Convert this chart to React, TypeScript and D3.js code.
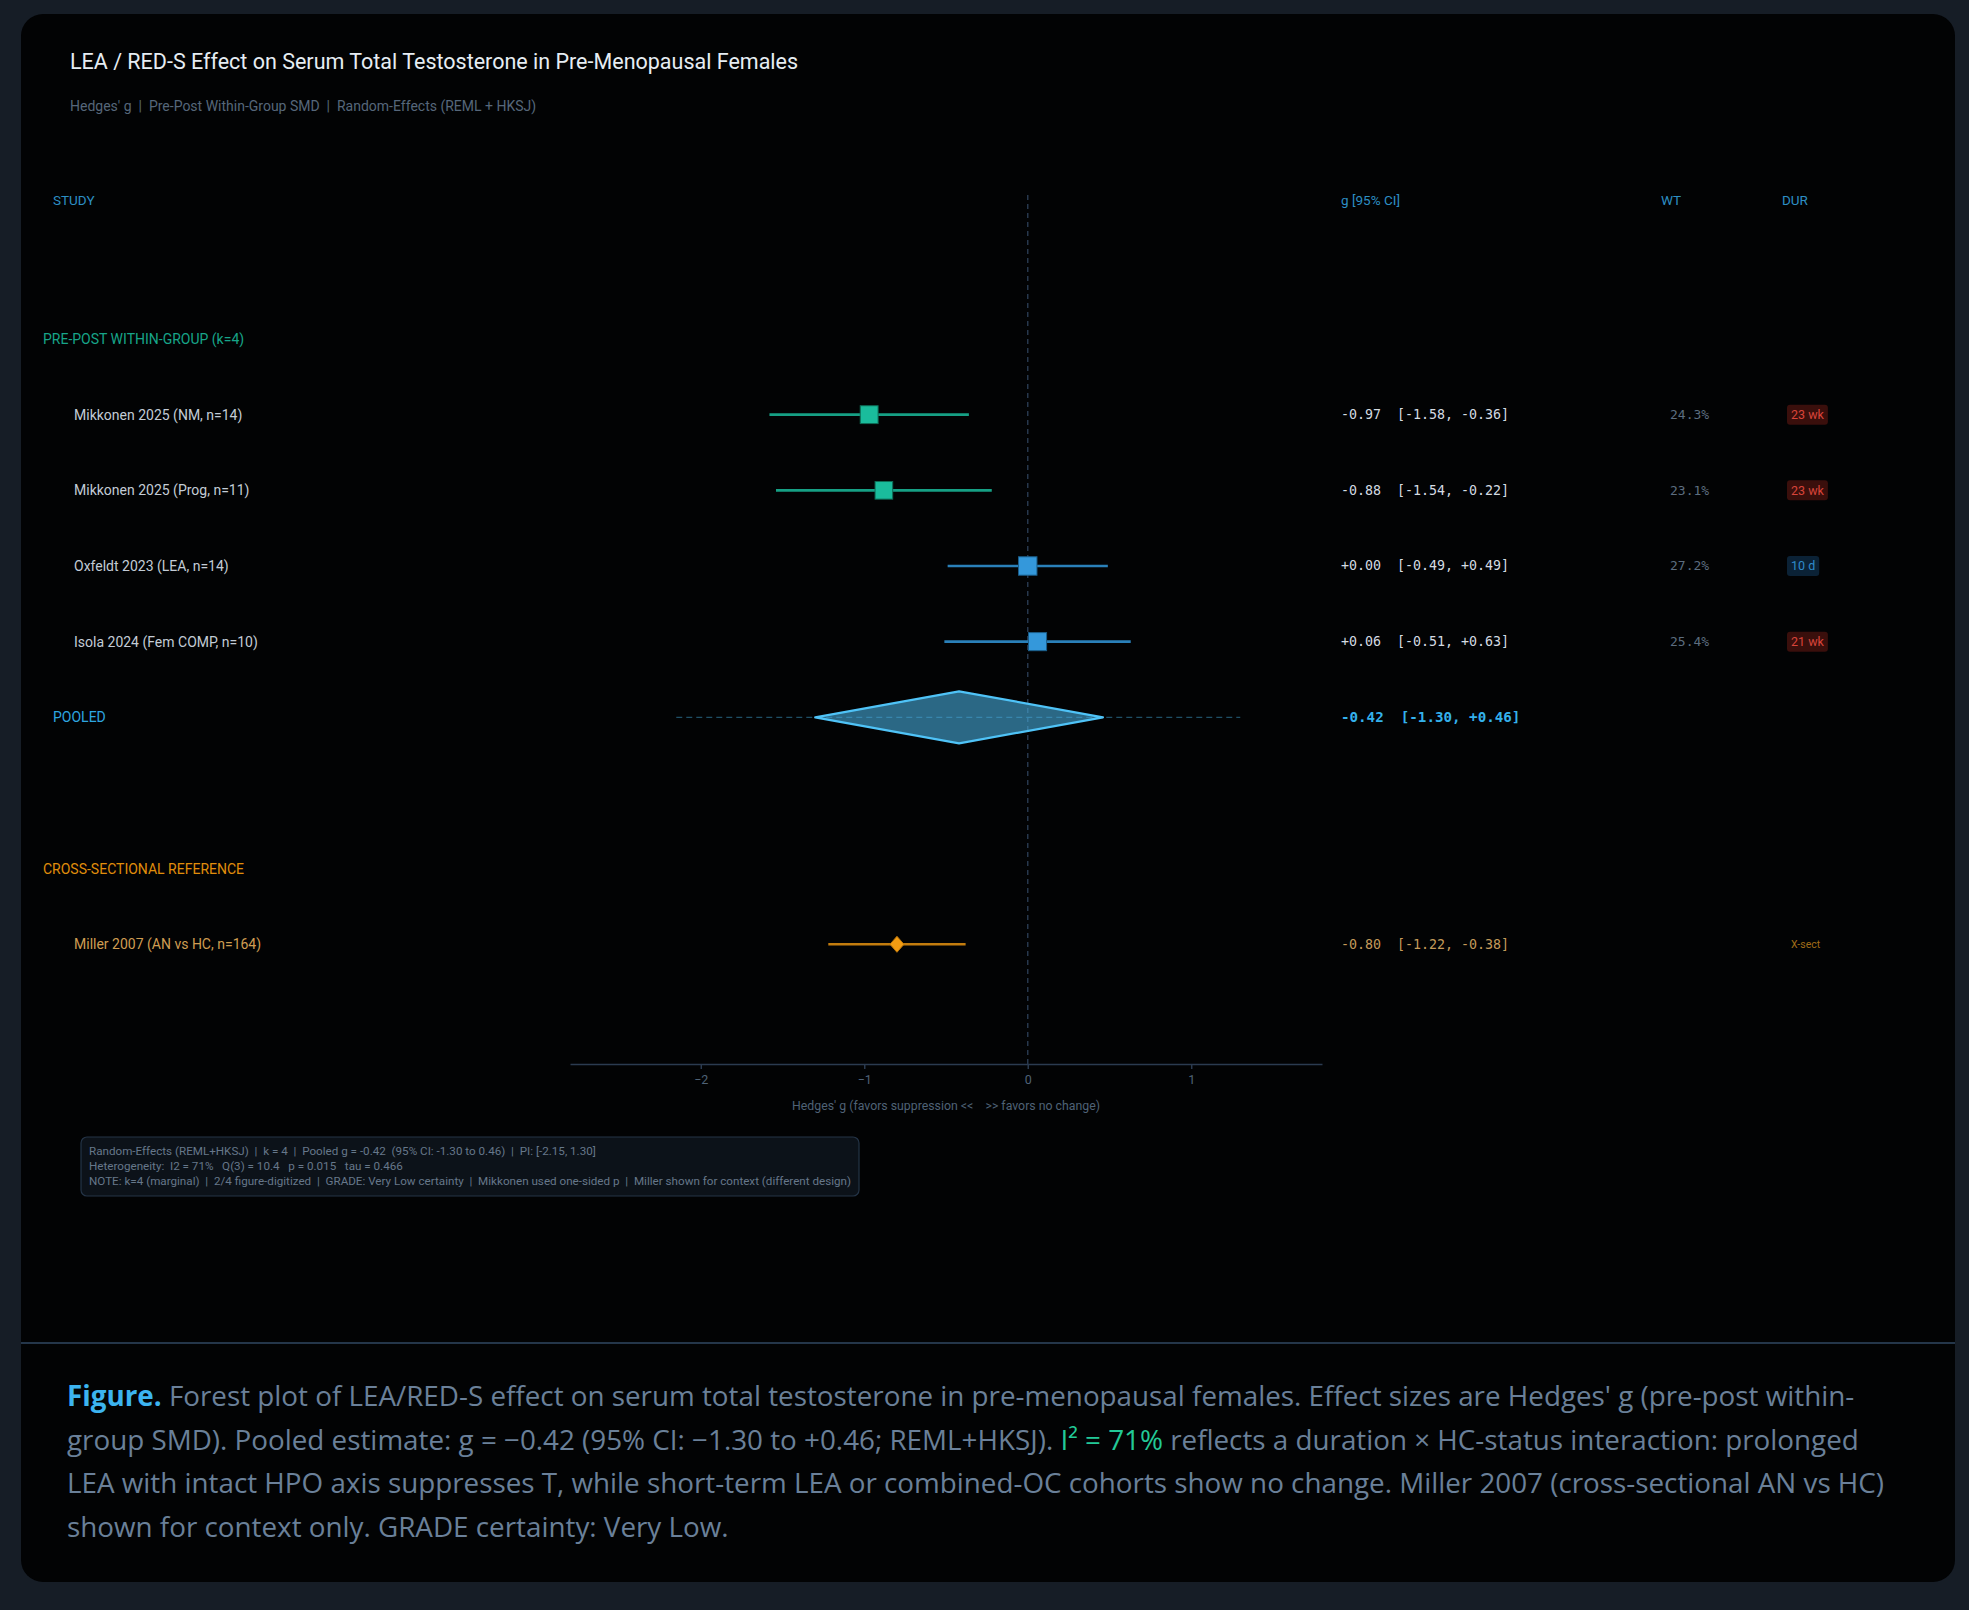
import React, { useEffect, useRef } from 'react';
import * as d3 from 'd3';

// ---- data ----
const studyLabels = [
  'Mikkonen 2025 (NM, n=14)',
  'Mikkonen 2025 (Prog, n=11)',
  'Oxfeldt 2023 (LEA, n=14)',
  'Isola 2024 (Fem COMP, n=10)',
];
const effects = [-0.97, -0.88, 0.0, 0.06];
const ciLow = [-1.58, -1.54, -0.49, -0.51];
const ciHigh = [-0.36, -0.22, 0.49, 0.63];
const weights = [24.3, 23.1, 27.2, 25.4];
const durations = ['23 wk', '23 wk', '10 d', '21 wk'];
const durKind = ['long', 'long', 'short', 'long'];
const response = ['suppressed', 'suppressed', 'unchanged', 'unchanged'];

const pooledG = -0.42;
const pooledCI = [-1.3, 0.46];
const pooledPI = [-2.15, 1.3];

const refLabel = 'Miller 2007 (AN vs HC, n=164)';
const refG = -0.8;
const refCI = [-1.22, -0.38];
const refDur = 'X-sect';

const xDomain = [-2.8, 1.8];
const xTicks = [-2, -1, 0, 1];

const statsLines = [
  'Random-Effects (REML+HKSJ)  |  k = 4  |  Pooled g = -0.42  (95% CI: -1.30 to 0.46)  |  PI: [-2.15, 1.30]',
  'Heterogeneity:  I2 = 71%   Q(3) = 10.4   p = 0.015   tau = 0.466',
  'NOTE: k=4 (marginal)  |  2/4 figure-digitized  |  GRADE: Very Low certainty  |  Mikkonen used one-sided p  |  Miller shown for context (different design)',
];

// caption, one array per line: [text, kind]
const captionLines: [string, string][][] = [
  [['Figure.', 'lead'], [" Forest plot of LEA/RED-S effect on serum total testosterone in pre-menopausal females. Effect sizes are Hedges' g (pre-post within-", 'body']],
  [['group SMD). Pooled estimate: g = \u22120.42 (95% CI: \u22121.30 to +0.46; REML+HKSJ). ', 'body'], ['I\u00b2 = 71%', 'hi'], [' reflects a duration \u00d7 HC-status interaction: prolonged', 'body']],
  [['LEA with intact HPO axis suppresses T, while short-term LEA or combined-OC cohorts show no change. Miller 2007 (cross-sectional AN vs HC)', 'body']],
  [['shown for context only. GRADE certainty: Very Low.', 'body']],
];

const W = 1969;
const H = 1610;
const SANS = 'Roboto, "Noto Sans", sans-serif';
const MONO = '"DejaVu Sans Mono", monospace';

const fmt = (v: number) => (v >= 0 ? '+' : '-') + Math.abs(v).toFixed(2);
const fmtFirst = (v: number) => (v < 0 ? '-' : '+') + Math.abs(v).toFixed(2);

export default function App() {
  const svgRef = useRef<SVGSVGElement>(null);

  useEffect(() => {
    const svg = d3.select(svgRef.current);
    svg.selectAll('*').remove();

    // background + card
    svg.append('rect').attr('width', W).attr('height', H).attr('fill', '#161d26');
    svg.append('rect').attr('x', 21).attr('y', 14).attr('width', 1934).attr('height', 1568)
      .attr('rx', 22).attr('fill', '#020304');
    svg.append('line').attr('x1', 21).attr('x2', 1955).attr('y1', 1343).attr('y2', 1343)
      .attr('stroke', '#24364a').attr('stroke-width', 2);

    // title
    svg.append('text').attr('x', 70).attr('y', 69).attr('fill', '#e6edf3')
      .style('font-family', SANS).style('font-size', '21.5px').text('LEA / RED-S Effect on Serum Total Testosterone in Pre-Menopausal Females');
    svg.append('text').attr('x', 70).attr('y', 111).attr('fill', '#56677a')
      .style('font-family', SANS).style('font-size', '14px').style('white-space', 'pre')
      .text("Hedges' g  |  Pre-Post Within-Group SMD  |  Random-Effects (REML + HKSJ)");

    const rowKeys = ['grp1', ...studyLabels, 'pooled', 'gap', 'grp2', refLabel];
    const y = d3.scalePoint<string>().domain(rowKeys).range([339, 944.3]);
    const x = d3.scaleLinear().domain(xDomain).range([570, 1322]);
    const size = d3.scaleLinear().domain([20, 30]).range([17, 19]);

    const colorOf = (r: string) => (r === 'suppressed' ? '#1abc9c' : '#3498db');
    const lineOf = (r: string) => (r === 'suppressed' ? '#16a085' : '#2a80b9');
    const edgeOf = (r: string) => (r === 'suppressed' ? '#0e6b55' : '#1b5e8a');

    // headers
    const hdr = svg.append('g').style('font-family', SANS).style('font-size', '13.5px').attr('fill', '#2d8fc4');
    hdr.append('text').attr('x', 53).attr('y', 200).attr('dominant-baseline', 'central').text('STUDY');
    hdr.append('text').attr('x', 1341).attr('y', 200).attr('dominant-baseline', 'central').text('g [95% CI]');
    hdr.append('text').attr('x', 1661).attr('y', 200).attr('dominant-baseline', 'central').text('WT');
    hdr.append('text').attr('x', 1782).attr('y', 200).attr('dominant-baseline', 'central').text('DUR');

    // zero reference line
    svg.append('line').attr('x1', x(0)).attr('x2', x(0)).attr('y1', 195).attr('y2', 1064)
      .attr('stroke', '#27384d').attr('stroke-width', 1.5).attr('stroke-dasharray', '5,4');

    // axis
    const axis = svg.append('g').attr('transform', 'translate(0,1064)')
      .call(d3.axisBottom(x).tickValues(xTicks).tickFormat(d3.format('d')).tickSize(5).tickSizeOuter(0).tickPadding(6));
    axis.select('.domain').attr('stroke', '#2b3b50').attr('stroke-width', 1.5);
    axis.selectAll('.tick line').attr('stroke', '#2b3b50').attr('stroke-width', 1.5);
    axis.selectAll('.tick text').attr('fill', '#4f6276').style('font-family', SANS).style('font-size', '12.5px');
    svg.append('text').attr('x', (x.range()[0] + x.range()[1]) / 2).attr('y', 1110)
      .attr('text-anchor', 'middle').attr('fill', '#4f6276').style('font-family', SANS).style('font-size', '12.3px')
      .style('white-space', 'pre').text("Hedges' g (favors suppression <<    >> favors no change)");

    // group labels
    svg.append('text').attr('x', 43).attr('y', y('grp1')!).attr('dominant-baseline', 'central')
      .attr('fill', '#17a589').style('font-family', SANS).style('font-size', '14px').text('PRE-POST WITHIN-GROUP (k=4)');
    svg.append('text').attr('x', 43).attr('y', y('grp2')!).attr('dominant-baseline', 'central')
      .attr('fill', '#e08e0b').style('font-family', SANS).style('font-size', '14px').text('CROSS-SECTIONAL REFERENCE');

    // studies
    const rows = svg.append('g');
    studyLabels.forEach((lab, i) => {
      const yy = y(lab)!;
      const r = response[i];
      rows.append('text').attr('x', 74).attr('y', yy).attr('dominant-baseline', 'central')
        .attr('fill', '#c3ccd6').style('font-family', SANS).style('font-size', '14px').text(lab);
      rows.append('line').attr('x1', x(ciLow[i])).attr('x2', x(ciHigh[i])).attr('y1', yy).attr('y2', yy)
        .attr('stroke', lineOf(r)).attr('stroke-width', 2.6);
      const s = size(weights[i]);
      rows.append('rect').attr('x', x(effects[i]) - s / 2).attr('y', yy - s / 2).attr('width', s).attr('height', s)
        .attr('fill', colorOf(r)).attr('stroke', edgeOf(r)).attr('stroke-width', 1);
      rows.append('text').attr('x', 1341).attr('y', yy).attr('dominant-baseline', 'central')
        .attr('fill', '#d4dbe2').style('font-family', MONO).style('font-size', '13.3px').style('white-space', 'pre')
        .text(`${fmtFirst(effects[i])}  [${fmt(ciLow[i])}, ${fmt(ciHigh[i])}]`);
      rows.append('text').attr('x', 1670).attr('y', yy).attr('dominant-baseline', 'central')
        .attr('fill', '#5c6d7f').style('font-family', MONO).style('font-size', '13px')
        .text(`${weights[i].toFixed(1)}%`);
      const long = durKind[i] === 'long';
      const bg = rows.append('rect').attr('y', yy - 10).attr('height', 20).attr('rx', 3)
        .attr('fill', long ? '#3a0f0c' : '#0b2236');
      const t = rows.append('text').attr('x', 1791).attr('y', yy).attr('dominant-baseline', 'central')
        .attr('fill', long ? '#d8443a' : '#2f8bcb').style('font-family', SANS).style('font-size', '12.5px')
        .text(durations[i]);
      const tl = (t.node() as SVGTextElement).getComputedTextLength();
      bg.attr('x', 1787).attr('width', tl + 8);
    });

    // pooled row
    const py = y('pooled')!;
    svg.append('text').attr('x', 53).attr('y', py).attr('dominant-baseline', 'central')
      .attr('fill', '#2ea6e0').style('font-family', SANS).style('font-size', '14px').text('POOLED');
    svg.append('line').attr('x1', x(pooledPI[0])).attr('x2', x(pooledPI[1])).attr('y1', py).attr('y2', py)
      .attr('stroke', '#1f4f66').attr('stroke-width', 1.3).attr('stroke-dasharray', '6,4');
    const diamond = d3.line()([
      [x(pooledCI[0]), py], [x(pooledG), py - 26], [x(pooledCI[1]), py], [x(pooledG), py + 26],
    ]) + 'Z';
    svg.append('path').attr('d', diamond).attr('fill', '#48acdc').attr('fill-opacity', 0.6)
      .attr('stroke', '#4fc3f7').attr('stroke-width', 2.2).attr('stroke-linejoin', 'round');
    svg.append('text').attr('x', 1341).attr('y', py).attr('dominant-baseline', 'central')
      .attr('fill', '#34b1ec').style('font-family', MONO).style('font-size', '14.2px').style('font-weight', 'bold')
      .style('white-space', 'pre').text(`${fmtFirst(pooledG)}  [${fmt(pooledCI[0])}, ${fmt(pooledCI[1])}]`);

    // reference row
    const ry = y(refLabel)!;
    svg.append('text').attr('x', 74).attr('y', ry).attr('dominant-baseline', 'central')
      .attr('fill', '#cf9d52').style('font-family', SANS).style('font-size', '14px').text(refLabel);
    svg.append('line').attr('x1', x(refCI[0])).attr('x2', x(refCI[1])).attr('y1', ry).attr('y2', ry)
      .attr('stroke', '#c27c0e').attr('stroke-width', 2.6);
    const rd = d3.line()([[x(refG), ry - 8], [x(refG) + 7, ry], [x(refG), ry + 8], [x(refG) - 7, ry]]) + 'Z';
    svg.append('path').attr('d', rd).attr('fill', '#f39c12').attr('stroke', '#b8740a').attr('stroke-width', 1);
    svg.append('text').attr('x', 1341).attr('y', ry).attr('dominant-baseline', 'central')
      .attr('fill', '#c49a5a').style('font-family', MONO).style('font-size', '13.3px').style('white-space', 'pre')
      .text(`${fmtFirst(refG)}  [${fmt(refCI[0])}, ${fmt(refCI[1])}]`);
    svg.append('text').attr('x', 1791).attr('y', ry).attr('dominant-baseline', 'central')
      .attr('fill', '#a06c18').style('font-family', SANS).style('font-size', '10.5px').text(refDur);

    // stats box
    svg.append('rect').attr('x', 81).attr('y', 1137).attr('width', 778).attr('height', 59).attr('rx', 6)
      .attr('fill', '#0c1219').attr('stroke', '#243447').attr('stroke-width', 1.2);
    statsLines.forEach((ln, i) => {
      svg.append('text').attr('x', 89).attr('y', 1151 + i * 15).attr('dominant-baseline', 'central')
        .attr('fill', '#66778a').style('font-family', SANS).style('font-size', '11.65px').style('white-space', 'pre')
        .text(ln);
    });

    // caption
    const capColors: Record<string, string> = { lead: '#3cb4f0', body: '#6a8099', hi: '#22c997' };
    captionLines.forEach((parts, i) => {
      const t = svg.append('text').attr('x', 67).attr('y', 1406 + i * 43.7)
        .style('font-family', '"Open Sans", sans-serif').style('font-size', '27.8px').style('white-space', 'pre');
      parts.forEach(([txt, kind]) => {
        t.append('tspan').attr('fill', capColors[kind]).style('font-weight', kind === 'lead' ? 'bold' : 'normal').text(txt);
      });
    });
  }, []);

  return (
    <div style={{ position: 'absolute', left: 0, top: 0 }}>
      <svg ref={svgRef} width={W} height={H} />
    </div>
  );
}
